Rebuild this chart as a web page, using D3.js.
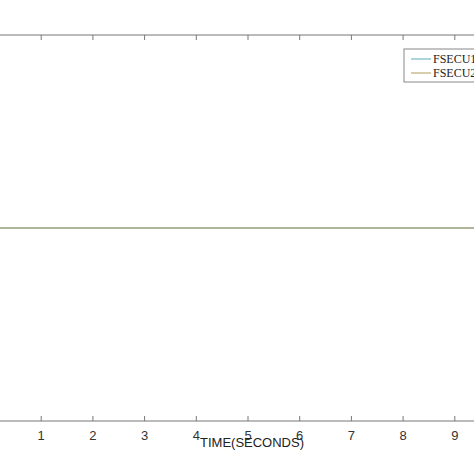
<!DOCTYPE html>
<html><head><meta charset="utf-8">
<script src="https://cdn.jsdelivr.net/npm/d3@7"></script>
<style>body{margin:0;background:#fff}</style>
</head><body>
<svg id="chart" width="474" height="474"></svg>
<script>
// data
const times = [0,1,2,3,4,5,6,7,8,9,10]
const series1 = [0,0,0,0,0,0,0,0,0,0,0]
const series2 = [0,0,0,0,0,0,0,0,0,0,0]
const seriesNames = ["FSECU1","FSECU2"]
const seriesColors = ["#5aa9b8","#b09a5a"]
const xTicks = [1,2,3,4,5,6,7,8,9]

const svg = d3.select("#chart")

// cropped MATLAB figure: 0 sits just left of the picture
const x = d3.scaleLinear().domain([0,10]).range([-11,506])
const y = d3.scaleLinear().domain([-1,1]).range([421,35])

// box
svg.append("line").attr("x1",0).attr("x2",474).attr("y1",y(1)).attr("y2",y(1)).attr("stroke","#777")
svg.append("line").attr("x1",0).attr("x2",474).attr("y1",y(-1)).attr("y2",y(-1)).attr("stroke","#777")

const bottomAxis = svg.append("g").attr("transform",`translate(0,${y(-1)})`)
.call(d3.axisBottom(x).tickValues(xTicks).tickSize(-5).tickPadding(10).tickFormat(d3.format("d")))
bottomAxis.select(".domain").remove()
bottomAxis.selectAll("line").attr("stroke","#777")
bottomAxis.selectAll("text").attr("font-family","Liberation Sans, Arial").attr("font-size",13).attr("fill","#333")

const topAxis = svg.append("g").attr("transform",`translate(0,${y(1)})`)
.call(d3.axisTop(x).tickValues(xTicks).tickSize(-5).tickFormat(""))
topAxis.select(".domain").remove()
topAxis.selectAll("line").attr("stroke","#777")

const line = d3.line().x((d,i)=>x(times[i])).y(d=>y(d))
;[series1,series2].forEach((s,i)=>{
svg.append("path").datum(s).attr("fill","none").attr("stroke",seriesColors[i]).attr("stroke-width",1.2).attr("d",line)
})

svg.append("text").attr("x",252).attr("y",447).attr("text-anchor","middle")
.attr("font-family","Liberation Sans, Arial").attr("font-size",13).attr("fill","#222").text("TIME(SECONDS)")

// legend
const lg = svg.append("g").attr("transform","translate(404,49)")
lg.append("rect").attr("width",80).attr("height",33).attr("fill","#fff").attr("stroke","#888")
seriesNames.forEach((n,i)=>{
lg.append("line").attr("x1",7).attr("x2",27).attr("y1",10+i*14).attr("y2",10+i*14).attr("stroke",seriesColors[i])
lg.append("text").attr("x",29).attr("y",14+i*14).attr("font-family","Liberation Serif, Times New Roman").attr("font-size",12).attr("fill","#222").text(n)
})
</script>
</body></html>
